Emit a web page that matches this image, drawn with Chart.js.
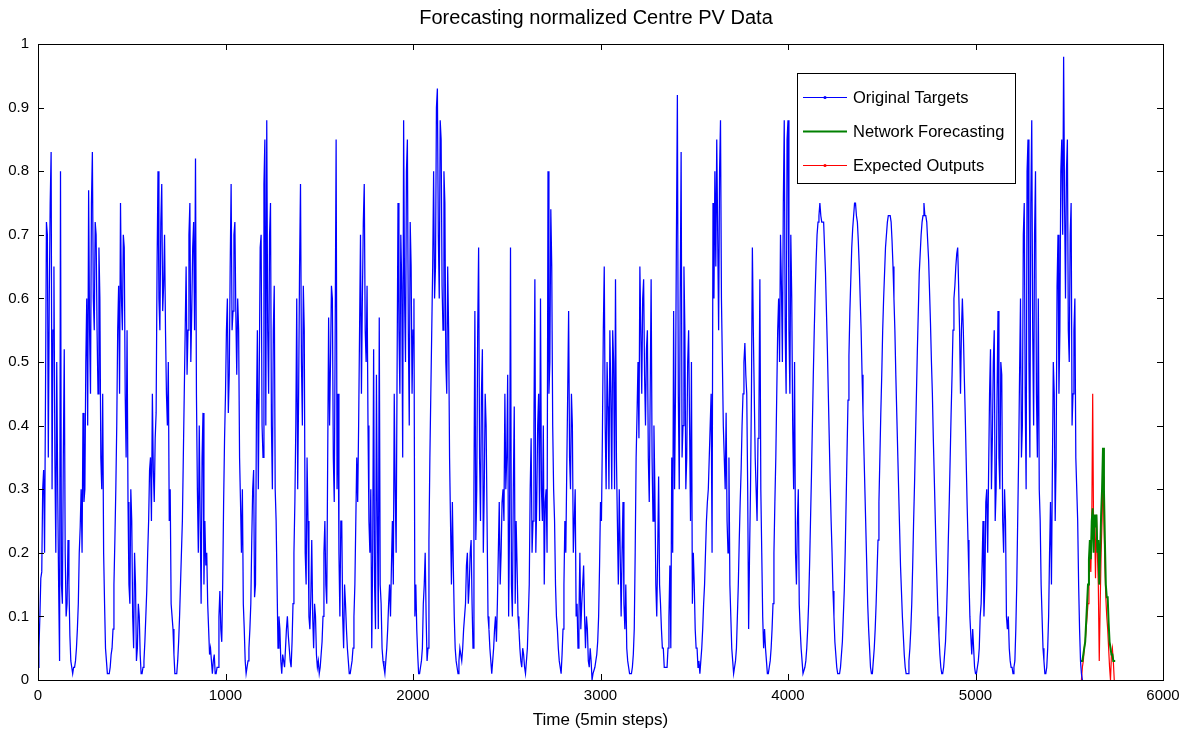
<!DOCTYPE html>
<html lang="en">
<head>
<meta charset="UTF-8">
<title>Forecasting normalized Centre PV Data</title>
<script src="https://cdn.jsdelivr.net/npm/chart.js"></script>
<style>
    html, body { margin: 0; padding: 0; background: #fff; }
</style>
</head>
<body>
<canvas id="chart_pv" width="1188" height="733"></canvas>
<script>
// sample spacing of the read-off values (in 5 min steps)
const targetStep = 10;
const forecastStep = 5;

const chartTitle = 'Forecasting normalized Centre PV Data';

// Original Targets, one row per day, read at steps 0, 10, 20 ...
const targetValues = [
    0.02,0.10,0.17,0.33,0.45,0.70,0.60,0.83,0.55,0.35,0.50,0.15,0.80,0.12,0.52,0.10,0.22,0.07,0.02,
    0.02,0.03,0.08,0.20,0.30,0.42,0.30,0.60,0.77,0.45,0.83,0.55,0.70,0.45,0.60,0.30,0.20,0.05,0.01,
    0.01,0.04,0.08,0.22,0.40,0.62,0.75,0.55,0.68,0.35,0.28,0.12,0.25,0.05,0.15,0.05,0.10,0.01,
    0.02,0.06,0.14,0.25,0.35,0.45,0.28,0.42,0.80,0.55,0.78,0.62,0.55,0.40,0.25,0.12,0.08,0.01,
    0.01,0.06,0.15,0.25,0.45,0.65,0.55,0.75,0.58,0.72,0.82,0.30,0.40,0.12,0.42,0.25,0.20,0.08,0.05,0.01,0.04,0.01,
    0.02,0.14,0.06,0.28,0.45,0.60,0.48,0.78,0.58,0.72,0.48,0.55,0.28,0.30,0.08,
    0.01,0.03,0.08,0.22,0.33,0.15,0.55,0.48,0.70,0.35,0.85,0.88,0.45,0.75,0.30,0.62,0.25,0.05,0.08,0.01,0.03,
    0.05,0.10,0.05,0.02,0.12,0.28,0.60,0.45,0.78,0.40,0.55,0.15,0.25,0.08,0.22,0.05,0.10,0.02,0.01,
    0.04,0.10,0.25,0.12,0.57,0.50,0.60,0.28,0.85,0.45,0.10,0.25,0.05,0.12,0.05,0.01,
    0.02,0.05,0.15,0.35,0.40,0.70,0.60,0.78,0.50,0.40,0.20,0.05,0.52,0.08,0.25,0.57,0.12,0.03,0.01,
    0.05,0.12,0.10,0.25,0.45,0.20,0.75,0.45,0.62,0.88,0.50,0.85,0.40,0.65,0.55,0.10,0.08,0.01,
    0.02,0.05,0.15,0.10,0.05,0.35,0.55,0.80,0.65,0.93,0.60,0.85,0.55,0.75,0.45,0.55,0.25,0.28,0.10,0.03,
    0.01,0.05,0.03,0.08,0.12,0.20,0.15,0.22,0.05,0.58,0.30,0.68,0.25,0.52,0.30,0.40,0.10,0.05,0.01,
    0.05,0.10,0.12,0.28,0.20,0.30,0.45,0.35,0.10,0.68,0.10,0.43,0.25,0.10,0.05,0.02,0.04,0.01,
    0.05,0.15,0.38,0.25,0.63,0.28,0.45,0.60,0.25,0.15,0.30,0.80,0.50,0.65,0.30,0.15,0.08,0.03,
    0.01,0.08,0.25,0.33,0.58,0.30,0.40,0.25,0.10,0.05,0.20,0.12,0.18,0.05,0.08,0.02,0.03,0.01,
    0.02,0.04,0.10,0.28,0.38,0.65,0.30,0.43,0.55,0.30,0.50,0.63,0.25,0.30,0.10,0.28,0.08,0.05,0.02,0.01,
    0.02,0.08,0.35,0.50,0.65,0.45,0.63,0.40,0.55,0.28,0.63,0.25,0.30,0.10,0.32,0.12,0.05,0.02,
    0.02,0.05,0.18,0.35,0.58,0.45,0.92,0.30,0.83,0.40,0.55,0.35,0.55,0.25,0.12,0.15,0.05,0.02,0.01,
    0.05,0.12,0.20,0.28,0.35,0.45,0.75,0.80,0.85,0.55,0.88,0.50,0.35,0.42,0.20,0.15,0.05,0.01,
    0.03,0.10,0.22,0.33,0.45,0.53,0.45,0.08,0.30,0.68,0.45,0.30,0.38,0.63,0.20,0.05,0.05,0.01,
    0.02,0.05,0.12,0.28,0.45,0.60,0.70,0.50,0.88,0.45,0.88,0.45,0.60,0.30,0.20,0.25,0.12,0.05,0.01,
    0.02,0.05,0.12,0.25,0.40,0.55,0.66,0.72,0.75,0.72,0.72,0.64,0.52,0.38,0.25,0.14,0.06,0.02,0.01,
    0.02,0.06,0.14,0.28,0.44,0.58,0.68,0.73,0.75,0.72,0.65,0.55,0.42,0.30,0.18,0.08,0.02,
    0.01,0.05,0.12,0.22,0.35,0.48,0.60,0.68,0.72,0.73,0.72,0.65,0.55,0.42,0.30,0.18,0.10,0.04,0.01,
    0.01,0.05,0.12,0.25,0.38,0.52,0.64,0.70,0.73,0.73,0.72,0.66,0.56,0.45,0.32,0.20,0.10,0.04,0.01,
    0.02,0.06,0.15,0.28,0.42,0.55,0.62,0.67,0.62,0.45,0.60,0.48,0.35,0.22,0.10,0.04,0.05,0.01,
    0.02,0.05,0.12,0.25,0.15,0.30,0.33,0.52,0.38,0.55,0.30,0.58,0.30,0.48,0.20,0.25,0.08,0.05,0.02,0.01,
    0.03,0.15,0.35,0.60,0.40,0.75,0.30,0.85,0.35,0.88,0.40,0.80,0.35,0.30,0.15,0.05,0.01,
    0.02,0.10,0.28,0.33,0.45,0.35,0.70,0.55,0.85,0.98,0.60,0.85,0.50,0.75,0.45,0.60,0.30,0.15,0.03,0.00
];

// Original Targets read half way between, at steps 5, 15, 25 ...
const targetMidValues = [
    0.05,0.16,0.30,0.20,0.72,0.35,0.75,0.30,0.65,0.20,0.30,0.03,0.15,0.35,0.20,0.12,0.15,0.03,0.01,
    0.02,0.05,0.12,0.24,0.20,0.28,0.50,0.40,0.55,0.75,0.60,0.72,0.55,0.68,0.35,0.45,0.12,0.03,0.01,
    0.02,0.05,0.15,0.30,0.55,0.45,0.60,0.70,0.45,0.55,0.15,0.30,0.10,0.20,0.03,0.12,0.04,0.01,
    0.03,0.10,0.20,0.33,0.25,0.33,0.38,0.65,0.60,0.72,0.58,0.70,0.45,0.50,0.30,0.10,0.04,0.01,
    0.03,0.10,0.20,0.35,0.55,0.48,0.70,0.50,0.68,0.55,0.45,0.20,0.25,0.35,0.15,0.18,0.12,0.04,0.03,0.03,0.01,0.02,
    0.10,0.08,0.15,0.38,0.55,0.42,0.65,0.55,0.70,0.58,0.60,0.35,0.20,0.12,0.03,
    0.02,0.05,0.12,0.30,0.13,0.42,0.30,0.68,0.40,0.78,0.40,0.55,0.70,0.40,0.55,0.30,0.15,0.10,0.03,0.04,0.02,
    0.08,0.07,0.03,0.06,0.20,0.40,0.30,0.65,0.50,0.62,0.20,0.35,0.10,0.13,0.10,0.12,0.04,0.03,0.02,
    0.06,0.20,0.15,0.35,0.40,0.62,0.35,0.55,0.30,0.20,0.25,0.10,0.15,0.08,0.03,0.01,
    0.03,0.10,0.25,0.28,0.55,0.45,0.72,0.55,0.62,0.25,0.30,0.20,0.15,0.48,0.08,0.15,0.05,0.02,0.03,
    0.08,0.15,0.18,0.15,0.30,0.48,0.55,0.70,0.35,0.60,0.80,0.55,0.72,0.45,0.60,0.15,0.04,0.01,
    0.03,0.12,0.20,0.03,0.22,0.45,0.65,0.60,0.90,0.70,0.88,0.62,0.80,0.50,0.65,0.35,0.15,0.18,0.05,0.02,
    0.03,0.04,0.05,0.10,0.18,0.12,0.20,0.12,0.30,0.22,0.55,0.35,0.45,0.20,0.45,0.25,0.08,0.03,0.03,
    0.08,0.06,0.20,0.15,0.28,0.25,0.30,0.48,0.25,0.15,0.30,0.12,0.18,0.08,0.03,0.05,0.02,0.03,
    0.10,0.30,0.20,0.40,0.20,0.40,0.25,0.30,0.40,0.28,0.20,0.45,0.74,0.40,0.25,0.10,0.05,0.02,
    0.04,0.15,0.20,0.45,0.35,0.45,0.20,0.30,0.12,0.10,0.08,0.15,0.10,0.10,0.03,0.05,0.00,0.01,
    0.03,0.06,0.18,0.25,0.55,0.40,0.50,0.30,0.45,0.55,0.30,0.35,0.15,0.20,0.20,0.12,0.15,0.03,0.01,0.01,
    0.04,0.20,0.42,0.38,0.55,0.60,0.48,0.52,0.35,0.45,0.35,0.40,0.15,0.20,0.15,0.08,0.05,0.02,
    0.02,0.10,0.05,0.20,0.30,0.70,0.45,0.60,0.35,0.65,0.30,0.50,0.40,0.50,0.20,0.08,0.05,0.03,0.03,
    0.08,0.15,0.25,0.30,0.40,0.20,0.60,0.65,0.70,0.80,0.60,0.40,0.30,0.25,0.35,0.10,0.03,0.02,
    0.05,0.15,0.28,0.40,0.50,0.48,0.30,0.20,0.45,0.55,0.35,0.25,0.42,0.30,0.10,0.08,0.03,0.01,
    0.03,0.08,0.20,0.35,0.55,0.50,0.62,0.75,0.55,0.85,0.55,0.70,0.40,0.50,0.15,0.30,0.08,0.03,0.01,
    0.03,0.08,0.18,0.32,0.48,0.61,0.70,0.73,0.73,0.72,0.68,0.58,0.45,0.31,0.20,0.10,0.04,0.01,0.01,
    0.04,0.10,0.20,0.36,0.51,0.63,0.71,0.75,0.73,0.69,0.60,0.48,0.36,0.24,0.12,0.05,0.01,
    0.03,0.08,0.17,0.28,0.42,0.55,0.64,0.70,0.73,0.73,0.69,0.60,0.48,0.36,0.24,0.14,0.07,0.02,0.01,
    0.03,0.08,0.18,0.31,0.45,0.58,0.67,0.72,0.75,0.73,0.69,0.61,0.50,0.38,0.26,0.15,0.07,0.02,0.01,
    0.04,0.10,0.22,0.35,0.48,0.60,0.65,0.68,0.55,0.55,0.55,0.42,0.28,0.16,0.07,0.08,0.02,0.01,
    0.03,0.10,0.18,0.10,0.28,0.20,0.45,0.30,0.50,0.25,0.45,0.35,0.50,0.25,0.30,0.10,0.10,0.03,0.02,0.02,
    0.08,0.25,0.48,0.35,0.70,0.45,0.80,0.50,0.75,0.55,0.70,0.45,0.60,0.25,0.10,0.03,0.01,
    0.05,0.20,0.15,0.50,0.25,0.62,0.45,0.80,0.70,0.75,0.80,0.55,0.70,0.40,0.55,0.35,0.25,0.08,0.01
];

// Network Forecasting (green), starts at step 5560
const forecastStart = 5560;
const forecastValues = [
    0.03,0.03,0.03,0.04,0.05,0.06,0.09,0.12,0.15,0.19,0.22,0.19,0.25,0.27,0.20,0.26,0.24,0.26,0.20,
    0.22,0.15,0.20,0.26,0.30,0.365,0.30,0.22,0.15,0.13,0.13,0.09,0.06,0.05,0.04,0.04,0.03,0.03,0.03
];

// Expected Outputs (red), starts at step 5565
const expectedStart = 5565;
const expectedValues = [
    0.00,0.02,0.03,0.05,0.06,0.08,0.10,0.12,0.15,0.20,0.17,0.24,0.45,0.22,0.25,0.16,0.26,0.20,0.15,
    0.03,0.12,0.20,0.25,0.32,0.25,0.18,0.13,0.10,0.08,0.05,0.02,0.00,0.04,0.05,0.03,0.00
];

const xTicks = [0, 1000, 2000, 3000, 4000, 5000, 6000];
const seriesNames = ['Original Targets', 'Network Forecasting', 'Expected Outputs'];
const seriesColors = ['#0000ff', '#008000', '#ff0000'];

function toPoints(values, start, step) {
    return values.map((v, i) => ({ x: start + i * step, y: v }));
}

// merge the two target readings into one series
function targetPoints() {
    let pts = [];
    for (let i = 0; i < targetValues.length; i++) {
        pts.push({ x: i * targetStep, y: targetValues[i] });
        if (i < targetMidValues.length) {
            pts.push({ x: i * targetStep + targetStep / 2, y: targetMidValues[i] });
        }
    }
    return pts;
}

const FONT = 'Liberation Sans, Arial, Helvetica, sans-serif';

// title centred over the figure, box + inward ticks on all four sides like matlab
const matlabFrame = {
    id: 'matlabFrame',
    afterDatasetsDraw(chart) {
        const { ctx, chartArea: a, scales } = chart;
        const len = 6;
        ctx.save();
        ctx.strokeStyle = '#000';
        ctx.lineWidth = 1;
        ctx.beginPath();
        scales.x.ticks.forEach(t => {
            const px = Math.round(scales.x.getPixelForValue(t.value)) + 0.5;
            ctx.moveTo(px, a.bottom); ctx.lineTo(px, a.bottom - len);
            ctx.moveTo(px, a.top); ctx.lineTo(px, a.top + len);
        });
        scales.y.ticks.forEach(t => {
            const py = Math.round(scales.y.getPixelForValue(t.value)) + 0.5;
            ctx.moveTo(a.left, py); ctx.lineTo(a.left + len, py);
            ctx.moveTo(a.right, py); ctx.lineTo(a.right - len, py);
        });
        ctx.stroke();
        ctx.strokeRect(Math.round(a.left) + 0.5, Math.round(a.top) + 0.5,
            Math.round(a.width), Math.round(a.height));

        ctx.fillStyle = '#000';
        ctx.font = '20px ' + FONT;
        ctx.textAlign = 'center';
        ctx.textBaseline = 'middle';
        ctx.fillText(chartTitle, chart.width / 2 + 2, 18);
        ctx.restore();
    }
};

// legend box in the upper right of the axes
const matlabLegend = {
    id: 'matlabLegend',
    afterDraw(chart) {
        const { ctx, chartArea: a } = chart;
        const left = a.right - 366, top = a.top + 29, w = 218, h = 110;
        ctx.save();
        ctx.fillStyle = '#fff';
        ctx.fillRect(left, top, w, h);
        ctx.strokeStyle = '#000';
        ctx.lineWidth = 1;
        ctx.strokeRect(left + 0.5, top + 0.5, w, h);
        ctx.font = '16.5px ' + FONT;
        ctx.textBaseline = 'middle';
        chart.data.datasets.forEach((ds, i) => {
            const y = top + 24 + i * 34 + 0.5;
            ctx.strokeStyle = ds.borderColor;
            ctx.lineWidth = i === 1 ? 2 : 1;
            ctx.beginPath();
            ctx.moveTo(left + 6, y);
            ctx.lineTo(left + 50, y);
            ctx.stroke();
            if (i !== 1) {
                ctx.fillStyle = ds.borderColor;
                ctx.beginPath();
                ctx.arc(left + 28, y, 1.6, 0, Math.PI * 2);
                ctx.fill();
            }
            ctx.fillStyle = '#000';
            ctx.fillText(ds.label, left + 56, y + 1);
        });
        ctx.restore();
    }
};

const config_pv = {
    type: 'line',
    data: {
        datasets: [
            {
                label: seriesNames[0],
                data: targetPoints(),
                borderColor: seriesColors[0],
                borderWidth: 1.25,
                pointRadius: 0,
                tension: 0
            },
            {
                label: seriesNames[1],
                data: toPoints(forecastValues, forecastStart, forecastStep),
                borderColor: seriesColors[1],
                borderWidth: 2,
                pointRadius: 0,
                tension: 0
            },
            {
                label: seriesNames[2],
                data: toPoints(expectedValues, expectedStart, forecastStep),
                borderColor: seriesColors[2],
                borderWidth: 1.2,
                pointRadius: 0,
                tension: 0
            }
        ]
    },
    options: {
        responsive: false,
        animation: false,
        layout: { padding: { left: 0, right: 25, top: 44, bottom: 0 } },
        plugins: {
            legend: { display: false },
            tooltip: { enabled: false },
            title: { display: false }
        },
        scales: {
            x: {
                type: 'linear',
                min: 0,
                max: 6000,
                afterBuildTicks: s => { s.ticks = xTicks.map(v => ({ value: v })); },
                afterFit: s => { s.height = 53; },
                grid: { display: false, drawTicks: false },
                border: { display: false },
                ticks: {
                    color: '#000',
                    padding: 7,
                    font: { family: FONT, size: 15 },
                    callback: v => String(v)
                },
                title: {
                    display: true,
                    text: 'Time (5min steps)',
                    color: '#000',
                    font: { family: FONT, size: 17 },
                    padding: { top: 0, bottom: 2 }
                }
            },
            y: {
                min: 0,
                max: 1,
                afterFit: s => { s.width = 38; },
                grid: { display: false, drawTicks: false },
                border: { display: false },
                ticks: {
                    stepSize: 0.1,
                    color: '#000',
                    padding: 9,
                    font: { family: FONT, size: 15 },
                    callback: v => String(Number(v.toFixed(1)))
                }
            }
        }
    },
    plugins: [matlabFrame, matlabLegend]
};

const chart_pv = new Chart(document.getElementById('chart_pv'), config_pv);
</script>
</body>
</html>
